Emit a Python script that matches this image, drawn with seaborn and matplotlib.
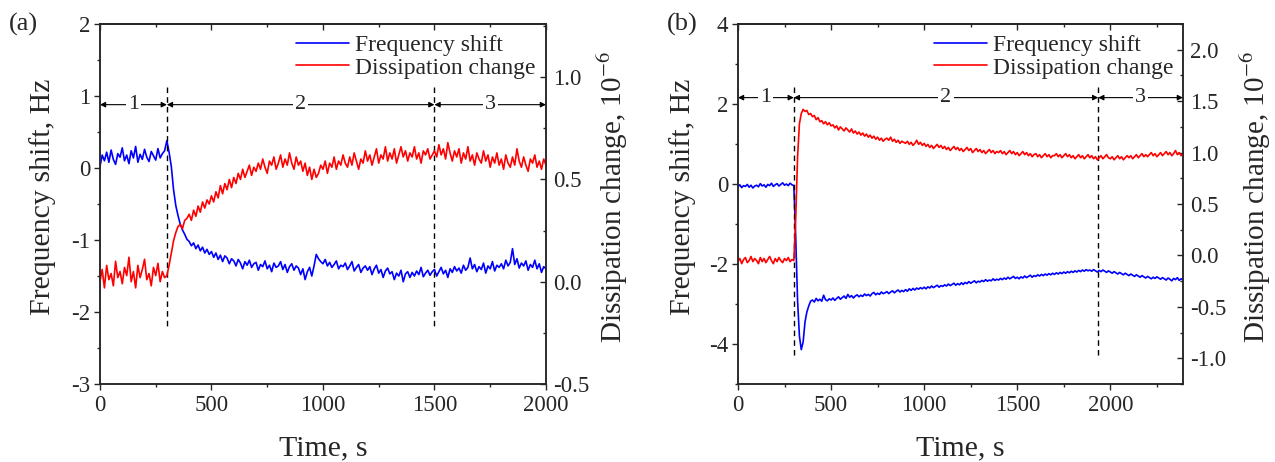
import matplotlib
matplotlib.use("Agg")
import matplotlib.pyplot as plt
import seaborn as sns
from matplotlib.ticker import MultipleLocator, FormatStrFormatter

time_a = list(range(0, 2001, 10))
freq_a = [
    0.02, 0.18, 0.10, 0.22, 0.08, 0.25, 0.12, 0.05, 0.20, 0.15,
    0.28, 0.10, 0.18, 0.06, 0.24, 0.14, 0.30, 0.08, 0.19, 0.12,
    0.26, 0.15, 0.09, 0.23, 0.17, 0.11, 0.27, 0.14, 0.20, 0.24,
    0.38, 0.22, 0.02, -0.30, -0.52, -0.66, -0.78, -0.86, -0.92, -0.99,
    -1.02, -1.08, -1.04, -1.12, -1.07, -1.15, -1.10, -1.18, -1.13, -1.20,
    -1.16, -1.24, -1.18, -1.27, -1.21, -1.30, -1.22, -1.25, -1.33, -1.26,
    -1.29, -1.36, -1.27, -1.32, -1.40, -1.30, -1.35, -1.28, -1.38, -1.33,
    -1.31, -1.42, -1.34, -1.37, -1.29, -1.40, -1.35, -1.44, -1.32, -1.38,
    -1.36, -1.30, -1.41, -1.34, -1.45, -1.37, -1.33, -1.42, -1.36, -1.39,
    -1.48, -1.40, -1.55, -1.44, -1.38, -1.50, -1.36, -1.20, -1.26, -1.30,
    -1.33, -1.27, -1.36, -1.31, -1.38, -1.34, -1.29, -1.40, -1.35, -1.37,
    -1.32, -1.41, -1.36, -1.30, -1.43, -1.38, -1.34, -1.45, -1.39, -1.36,
    -1.42, -1.37, -1.48, -1.40, -1.35, -1.46, -1.41, -1.52, -1.43, -1.39,
    -1.47, -1.44, -1.55, -1.46, -1.50, -1.42, -1.58, -1.47, -1.44, -1.52,
    -1.45, -1.50, -1.43, -1.48, -1.38, -1.51, -1.46, -1.42, -1.49, -1.44,
    -1.41, -1.50, -1.44, -1.38, -1.47, -1.42, -1.52, -1.40, -1.45, -1.37,
    -1.43, -1.39, -1.46, -1.35, -1.42, -1.38, -1.25, -1.40, -1.34, -1.44,
    -1.37, -1.41, -1.32, -1.46, -1.36, -1.40, -1.30, -1.43, -1.35, -1.38,
    -1.33, -1.40, -1.28, -1.36, -1.31, -1.12, -1.34, -1.26, -1.39, -1.32,
    -1.36, -1.29, -1.42, -1.34, -1.38, -1.28, -1.40, -1.33, -1.45, -1.37,
    -1.40,
]
diss_a = [
    0.00, 0.06, -0.03, 0.08, 0.01, 0.04, -0.02, 0.10, 0.02, 0.05,
    -0.01, 0.07, 0.03, 0.12, 0.00, 0.05, -0.03, 0.08, 0.02, 0.06,
    0.11, 0.01, 0.04, -0.02, 0.07, 0.03, 0.09, 0.00, 0.05, 0.02,
    0.03, 0.08, 0.14, 0.20, 0.24, 0.27, 0.28, 0.26, 0.30, 0.31,
    0.33, 0.30, 0.35, 0.32, 0.37, 0.34, 0.39, 0.36, 0.40, 0.38,
    0.42, 0.39, 0.44, 0.41, 0.47, 0.43, 0.48, 0.45, 0.50, 0.46,
    0.51, 0.48, 0.53, 0.50, 0.55, 0.51, 0.54, 0.57, 0.52, 0.56,
    0.54, 0.58, 0.55, 0.60, 0.56, 0.53, 0.59, 0.57, 0.61, 0.55,
    0.58, 0.62, 0.56, 0.60, 0.57, 0.63, 0.58, 0.55, 0.61, 0.57,
    0.59, 0.54, 0.58, 0.52, 0.56, 0.50, 0.55, 0.51, 0.53, 0.57,
    0.55, 0.59, 0.53, 0.58, 0.56, 0.61, 0.55, 0.59, 0.57, 0.62,
    0.58, 0.56, 0.61, 0.57, 0.63, 0.59, 0.55, 0.60, 0.58, 0.64,
    0.59, 0.62, 0.57, 0.61, 0.65, 0.58, 0.62, 0.60, 0.66, 0.59,
    0.63, 0.60, 0.65, 0.58, 0.62, 0.66, 0.61, 0.64, 0.59, 0.63,
    0.61, 0.66, 0.60, 0.63, 0.58, 0.64, 0.62, 0.65, 0.60, 0.62,
    0.64, 0.61, 0.67, 0.62, 0.65, 0.60, 0.68, 0.63, 0.59, 0.64,
    0.61, 0.65, 0.58, 0.63, 0.60, 0.66, 0.59, 0.62, 0.57, 0.63,
    0.60, 0.58, 0.64, 0.59, 0.62, 0.56, 0.61, 0.58, 0.63, 0.57,
    0.60, 0.55, 0.62, 0.58, 0.56, 0.61, 0.57, 0.65, 0.59, 0.56,
    0.61, 0.57, 0.54, 0.60, 0.58, 0.62, 0.56, 0.59, 0.55, 0.60,
    0.57,
]

time_b = list(range(0, 2391, 10))
freq_b = [
    -0.07, -0.02, -0.09, -0.04, -0.06, -0.01, -0.08, -0.03, -0.10, -0.05,
    -0.03, -0.07, 0.01, -0.05, -0.02, -0.08, -0.01, -0.04, 0.02, -0.06,
    -0.02, 0.01, -0.05, -0.01, 0.03, -0.03, 0.00, -0.04, 0.02, -0.02,
    -0.04, -1.30, -2.90, -3.80, -4.14, -3.95, -3.45, -3.20, -3.05, -2.93,
    -2.90, -2.95, -2.86, -2.92, -2.88, -2.93, -2.78, -2.89, -2.92, -2.87,
    -2.90, -2.85, -2.91, -2.86, -2.82, -2.88, -2.84, -2.80, -2.86, -2.76,
    -2.83, -2.79, -2.85, -2.80, -2.77, -2.82, -2.78, -2.81, -2.75, -2.79,
    -2.76, -2.80, -2.74, -2.71, -2.77, -2.73, -2.76, -2.70, -2.74, -2.72,
    -2.69, -2.74, -2.70, -2.67, -2.72, -2.68, -2.65, -2.70, -2.66, -2.69,
    -2.64, -2.68, -2.62, -2.66, -2.61, -2.65, -2.60, -2.63, -2.59, -2.62,
    -2.58, -2.62, -2.57, -2.60, -2.55, -2.59, -2.56, -2.53, -2.58, -2.54,
    -2.56, -2.52, -2.55, -2.50, -2.54, -2.51, -2.48, -2.53, -2.49, -2.52,
    -2.47, -2.51, -2.46, -2.49, -2.44, -2.48, -2.45, -2.42, -2.47, -2.43,
    -2.45, -2.41, -2.44, -2.39, -2.43, -2.40, -2.42, -2.37, -2.41, -2.38,
    -2.40, -2.36, -2.39, -2.35, -2.38, -2.33, -2.37, -2.34, -2.31, -2.36,
    -2.33, -2.37, -2.32, -2.35, -2.30, -2.34, -2.31, -2.28, -2.33, -2.29,
    -2.31, -2.27, -2.30, -2.26, -2.29, -2.25, -2.28, -2.24, -2.27, -2.23,
    -2.26, -2.22, -2.25, -2.21, -2.24, -2.20, -2.23, -2.19, -2.22, -2.18,
    -2.21, -2.17, -2.20, -2.16, -2.19, -2.15, -2.18, -2.14, -2.17, -2.15,
    -2.18, -2.14, -2.17, -2.20, -2.16, -2.19, -2.15, -2.18, -2.21, -2.17,
    -2.20, -2.23, -2.19, -2.22, -2.25, -2.21, -2.24, -2.27, -2.23, -2.26,
    -2.29, -2.25, -2.28, -2.31, -2.27, -2.30, -2.33, -2.29, -2.32, -2.35,
    -2.31, -2.34, -2.37, -2.33, -2.36, -2.32, -2.35, -2.38, -2.34, -2.37,
    -2.40, -2.35, -2.38, -2.42, -2.36, -2.39, -2.34, -2.41, -2.37, -2.39,
]
diss_b = [
    -0.06, -0.03, -0.08, -0.04, -0.02, -0.07, -0.05, -0.01, -0.06, -0.03,
    -0.05, -0.08, -0.02, -0.06, -0.03, -0.07, -0.04, -0.01, -0.05, -0.08,
    -0.03, -0.06, -0.02, -0.05, -0.07, -0.03, -0.05, -0.02, -0.06, -0.04,
    -0.05, 0.35, 0.95, 1.28, 1.38, 1.42, 1.40, 1.41, 1.37, 1.38,
    1.35, 1.36, 1.32, 1.34, 1.30, 1.31, 1.28, 1.30, 1.27, 1.29,
    1.26, 1.27, 1.24, 1.26, 1.22, 1.25, 1.23, 1.21, 1.24, 1.22,
    1.20, 1.23, 1.19, 1.21, 1.18, 1.20, 1.17, 1.19, 1.16, 1.18,
    1.15, 1.17, 1.14, 1.16, 1.13, 1.15, 1.12, 1.14, 1.11, 1.13,
    1.14, 1.12, 1.15, 1.11, 1.13, 1.10, 1.12, 1.09, 1.11, 1.10,
    1.09, 1.11, 1.08, 1.10, 1.07, 1.09, 1.12, 1.08, 1.10, 1.07,
    1.09, 1.06, 1.08, 1.05, 1.07, 1.04, 1.06, 1.08, 1.05, 1.07,
    1.04, 1.06, 1.03, 1.05, 1.02, 1.04, 1.06, 1.03, 1.05, 1.02,
    1.04, 1.01, 1.03, 1.05, 1.02, 1.04, 1.00, 1.02, 1.04, 1.01,
    1.03, 1.00, 1.02, 0.99, 1.01, 1.03, 1.00, 1.02, 0.99, 1.01,
    1.00, 1.02, 0.99, 1.01, 0.98, 1.00, 1.02, 0.99, 1.01, 0.98,
    1.00, 0.97, 0.99, 1.01, 0.98, 1.00, 0.97, 0.99, 0.96, 0.98,
    0.99, 0.96, 0.98, 0.95, 0.97, 0.99, 0.96, 0.98, 0.95, 0.97,
    0.97, 0.99, 0.96, 0.98, 0.95, 0.97, 0.99, 0.96, 0.98, 0.95,
    0.97, 0.94, 0.96, 0.98, 0.95, 0.97, 0.94, 0.96, 0.98, 0.95,
    0.97, 0.94, 0.96, 0.93, 0.95, 0.97, 0.94, 0.96, 0.98, 0.95,
    0.94, 0.96, 0.93, 0.95, 0.97, 0.94, 0.96, 0.93, 0.95, 0.97,
    0.95, 0.97, 0.94, 0.96, 0.98, 0.95, 0.97, 0.99, 0.96, 0.98,
    0.96, 0.98, 1.00, 0.97, 0.99, 0.96, 0.98, 1.00, 0.97, 0.99,
    1.01, 0.98, 1.00, 0.97, 0.99, 1.02, 0.98, 1.00, 0.97, 0.99,
]

# stage boundaries (s) and stage names
bounds_a = [0, 300, 1500, 2000]
bounds_b = [0, 300, 1935, 2390]
stages = ["1", "2", "3"]
series_names = ["Frequency shift", "Dissipation change"]

sns.set_style("ticks")
plt.rcParams["font.family"] = ["Liberation Serif", "DejaVu Serif"]
plt.rcParams["mathtext.fontset"] = "stix"
plt.rcParams["axes.unicode_minus"] = False
plt.rcParams["axes.linewidth"] = 1.1

fig = plt.figure(figsize=(12.75, 4.62), dpi=100)
ax_a = fig.add_axes([0.0784, 0.1688, 0.3498, 0.7792])
ax_b = fig.add_axes([0.5788, 0.1688, 0.3490, 0.7792])

TICK_FS = 16.5
LABEL_FS = 21.5


def draw_panel(ax, t, freq, diss, bounds, flim, fmaj, fmin, dlim,
               arrow_y, dash_top, dash_bot):
    sns.lineplot(x=t, y=freq, ax=ax, color="blue", lw=1.2, legend=False)
    ax2 = ax.twinx()
    sns.lineplot(x=t, y=diss, ax=ax2, color="red", lw=1.2, legend=False)

    ax.set_xlim(bounds[0], bounds[-1])
    ax.set_ylim(*flim)
    ax2.set_ylim(*dlim)

    # dashed separators
    for b in bounds[1:-1]:
        ax.plot([b, b], [dash_top, dash_bot], color="black", lw=1,
                dashes=(4, 3))
    # stage arrows
    for i, name in enumerate(stages):
        x0, x1 = bounds[i], bounds[i + 1]
        ax.annotate("", xy=(x1, arrow_y), xytext=(x0, arrow_y),
                    arrowprops=dict(arrowstyle="<|-|>", color="black",
                                    lw=0.8, mutation_scale=8,
                                    shrinkA=0, shrinkB=0))
        ax.text((x0 + x1) / 2, arrow_y, name, fontsize=16, ha="center",
                va="center",
                bbox=dict(facecolor="white", edgecolor="none", pad=1.5))

    # ticks
    ax.xaxis.set_major_locator(MultipleLocator(500))
    ax.xaxis.set_minor_locator(MultipleLocator(250))
    ax.yaxis.set_major_locator(MultipleLocator(fmaj))
    ax.yaxis.set_minor_locator(MultipleLocator(fmin))
    ax2.yaxis.set_major_locator(MultipleLocator(0.5))
    ax2.yaxis.set_minor_locator(MultipleLocator(0.25))
    ax2.yaxis.set_major_formatter(FormatStrFormatter("%.1f"))
    ax.tick_params(axis="both", which="major", direction="out", length=4.5,
                   width=1, labelsize=TICK_FS, top=False, right=False)
    ax.tick_params(axis="both", which="minor", direction="out", length=2.3,
                   width=1, top=False, right=False)
    ax.tick_params(axis="y", which="major", pad=2.5)
    ax2.tick_params(axis="y", which="major", direction="in", length=4.5,
                    width=1, labelsize=TICK_FS, pad=5)
    ax2.tick_params(axis="y", which="minor", direction="in", length=2.3,
                    width=1)
    top = ax.secondary_xaxis("top")
    top.xaxis.set_major_locator(MultipleLocator(500))
    top.xaxis.set_minor_locator(MultipleLocator(250))
    top.tick_params(which="major", direction="in", length=4.5, width=1,
                    labeltop=False)
    top.tick_params(which="minor", direction="in", length=2.3, width=1)

    ax.set_xlabel("Time, s", fontsize=LABEL_FS)
    ax.set_ylabel("Frequency shift, Hz", fontsize=LABEL_FS)
    ax2.set_ylabel(r"Dissipation change, 10$^{-6}$", fontsize=21)
    ax.xaxis.set_label_coords(0.5, -0.143)

    handles = [ax.lines[0], ax2.lines[0]]
    ax2.legend(handles, series_names, loc="upper left",
               bbox_to_anchor=(0.403, 1.017), frameon=False, fontsize=17,
               handlelength=2.25, handletextpad=0.25, labelspacing=0.05,
               borderpad=0.2)
    return ax2


ax2_a = draw_panel(ax_a, time_a, freq_a, diss_a, bounds_a, (-3, 2), 1, 0.5,
                   (-0.5, 1.26), 0.88, 1.13, -2.23)
ax2_b = draw_panel(ax_b, time_b, freq_b, diss_b, bounds_b, (-5, 4), 2, 1,
                   (-1.25, 2.25), 2.16, 2.43, -4.35)

ax_a.yaxis.set_label_coords(-0.099, 0.52)
ax2_a.yaxis.set_label_coords(1.112, 0.52)
ax_b.yaxis.set_label_coords(-0.094, 0.52)
ax2_b.yaxis.set_label_coords(1.125, 0.52)

fig.text(0.007, 0.948, "(a)", fontsize=19, va="center")
fig.text(0.523, 0.948, "(b)", fontsize=19, va="center")

fig.savefig("out.png", dpi=100)
